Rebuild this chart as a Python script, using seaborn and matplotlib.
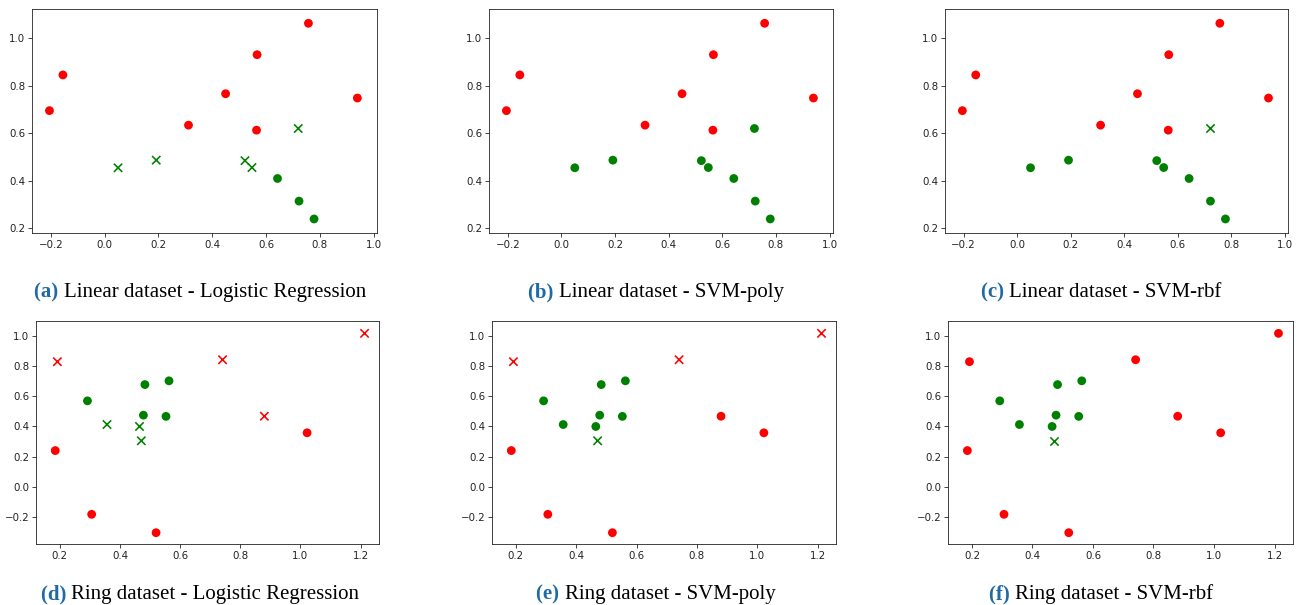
import matplotlib
matplotlib.use("Agg")
import matplotlib.pyplot as plt
import seaborn as sns
import pandas as pd

# ---------------- data ----------------
# Linear dataset: first 8 points class 1 (red), last 8 class 0 (green)
lin_x = [-0.205, -0.155, 0.312, 0.450, 0.567, 0.565, 0.758, 0.940,
         0.050, 0.192, 0.522, 0.548, 0.720, 0.643, 0.723, 0.779]
lin_y = [0.695, 0.845, 0.634, 0.766, 0.930, 0.613, 1.062, 0.748,
         0.455, 0.487, 0.485, 0.456, 0.620, 0.410, 0.315, 0.240]
lin_label = [1] * 8 + [0] * 8

# Ring dataset
ring_x = [0.192, 0.741, 1.213, 0.880, 0.185, 1.022, 0.306, 0.520,
          0.292, 0.483, 0.563, 0.478, 0.553, 0.357, 0.465, 0.471]
ring_y = [0.830, 0.843, 1.018, 0.468, 0.240, 0.358, -0.183, -0.305,
          0.570, 0.678, 0.703, 0.475, 0.467, 0.413, 0.400, 0.305]
ring_label = [1] * 8 + [0] * 8

# indices of misclassified points per model
lin_wrong_lr = [8, 9, 10, 11, 12]
lin_wrong_poly = []
lin_wrong_rbf = [12]
ring_wrong_lr = [0, 1, 2, 3, 13, 14, 15]
ring_wrong_poly = [0, 1, 2, 15]
ring_wrong_rbf = [15]

panel_letters = ["(a)", "(b)", "(c)", "(d)", "(e)", "(f)"]
panel_titles = ["Linear dataset - Logistic Regression", "Linear dataset - SVM-poly",
                "Linear dataset - SVM-rbf", "Ring dataset - Logistic Regression",
                "Ring dataset - SVM-poly", "Ring dataset - SVM-rbf"]

lin_xlim = (-0.27, 1.013)
lin_ylim = (0.181, 1.122)
ring_xlim = (0.121, 1.261)
ring_ylim = (-0.38, 1.10)

# ---------------- figure ----------------
W, H = 1307, 605
fig = plt.figure(figsize=(W / 100, H / 100), dpi=100)

def ax_at(l, r, t, b):
    return fig.add_axes([l / W, 1 - b / H, (r - l) / W, (b - t) / H])

boxes = [(32, 377, 9, 233), (489, 833, 9, 233), (945, 1288, 9, 233),
         (36, 379, 321, 544), (492, 836, 321, 544), (948, 1293, 321, 544)]

panels = [
    (lin_x, lin_y, lin_label, lin_wrong_lr, lin_xlim, lin_ylim),
    (lin_x, lin_y, lin_label, lin_wrong_poly, lin_xlim, lin_ylim),
    (lin_x, lin_y, lin_label, lin_wrong_rbf, lin_xlim, lin_ylim),
    (ring_x, ring_y, ring_label, ring_wrong_lr, ring_xlim, ring_ylim),
    (ring_x, ring_y, ring_label, ring_wrong_poly, ring_xlim, ring_ylim),
    (ring_x, ring_y, ring_label, ring_wrong_rbf, ring_xlim, ring_ylim),
]

palette = {1: "#ff0000", 0: "#008000"}

for box, (xs, ys, labs, wrong, xl, yl) in zip(boxes, panels):
    ax = ax_at(*box)
    df = pd.DataFrame({"x": xs, "y": ys, "label": labs})
    df["wrong"] = [i in wrong for i in range(len(xs))]
    ok = df[~df["wrong"]]
    bad = df[df["wrong"]]
    sns.scatterplot(data=ok, x="x", y="y", hue="label", palette=palette,
                    marker="o", s=40, linewidth=0, legend=False, ax=ax)
    if len(bad):
        sns.scatterplot(data=bad, x="x", y="y", hue="label", palette=palette,
                        marker="x", s=36, linewidth=1.15, legend=False, ax=ax)
    ax.set_xlim(*xl)
    ax.set_ylim(*yl)
    ax.set_xlabel("")
    ax.set_ylabel("")
    ax.tick_params(labelsize=7.4, length=2.6, width=0.6, pad=2.4, colors="#222222")
    for sp in ax.spines.values():
        sp.set_linewidth(0.6)
        sp.set_color("#222222")

# ---------------- captions ----------------
cap_cx = [200, 656, 1101, 200, 656, 1101]
cap_base = [297, 297, 297, 599, 599, 599]
renderer = fig.canvas.get_renderer()
serif = ["Liberation Serif", "DejaVu Serif"]
for letter, title, cx, by in zip(panel_letters, panel_titles, cap_cx, cap_base):
    t1 = fig.text(0, 0, letter + " ", fontsize=15, fontweight="bold",
                  color="#1f6aa5", family=serif, va="baseline", ha="left")
    t2 = fig.text(0, 0, title, fontsize=15, color="black",
                  family=serif, va="baseline", ha="left")
    w1 = t1.get_window_extent(renderer).width
    w2 = t2.get_window_extent(renderer).width
    left = cx - (w1 + w2) / 2
    t1.set_position((left / W, 1 - by / H))
    t2.set_position(((left + w1) / W, 1 - by / H))

fig.savefig("out.png", dpi=100)
